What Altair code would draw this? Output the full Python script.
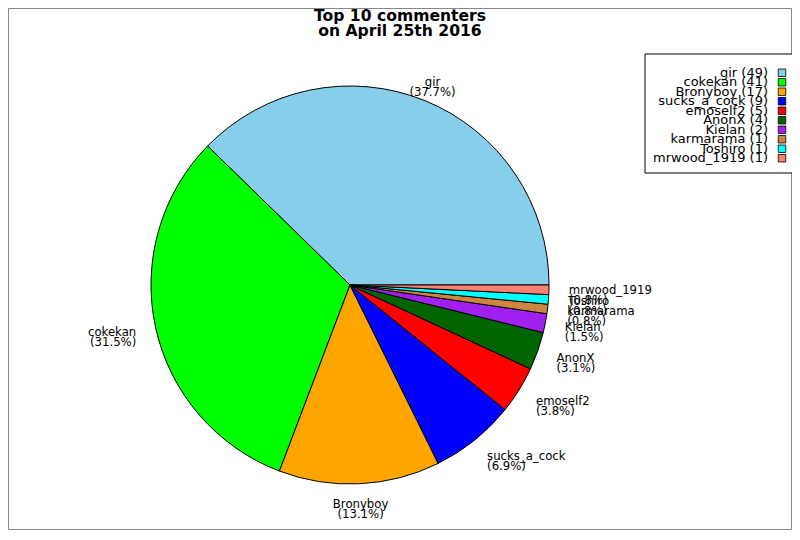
import math
import altair as alt
import pandas as pd

names = ["gir", "cokekan", "Bronyboy", "sucks_a_cock", "emoself2",
         "AnonX", "Kielan", "karmarama", "Toshiro", "mrwood_1919"]
counts = [49, 41, 17, 9, 5, 4, 2, 1, 1, 1]
colors = ["#87CEEB", "#00FF00", "#FFA500", "#0000FF", "#FF0000",
          "#006400", "#A020F0", "#CD853F", "#00FFFF", "#FA8072"]
title_lines = ["Top 10 commenters", "on April 25th 2016"]

df = pd.DataFrame({"name": names, "count": counts, "idx": list(range(len(names)))})

FONT = "DejaVu Sans"
FS = 11.7
W, H = 784, 522
CX, CY, R = 342, 277, 199

theta_scale = alt.Scale(range=[2.5 * math.pi, 0.5 * math.pi])
color_scale = alt.Scale(domain=names, range=colors)

base = (
    alt.Chart(df)
    .transform_joinaggregate(total="sum(count)")
    .transform_window(cum="sum(count)", sort=[alt.SortField(field="idx")], frame=[None, 0])
    .transform_calculate(
        mid="datum.cum - datum.count / 2",
        cosv="cos(2 * PI * (datum.cum - datum.count / 2) / datum.total)",
        label="datum.name + '\\n(' + format(100 * datum.count / datum.total, '.1f') + '%)'",
        leg="datum.name + ' (' + datum.count + ')'",
    )
)

frame = alt.Chart(pd.DataFrame({"a": [0]})).mark_rect(
    fill="white", stroke="#888888", strokeWidth=1
).encode(x=alt.value(0.5), x2=alt.value(W - 0.5), y=alt.value(0.5), y2=alt.value(H - 0.5))

pie = base.mark_arc(radius=R, stroke="black", strokeWidth=1).encode(
    theta=alt.Theta("count:Q", stack=True, scale=theta_scale),
    color=alt.Color("name:N", scale=color_scale, legend=None),
    order=alt.Order("idx:Q"),
    x=alt.value(CX),
    y=alt.value(CY),
)


def labels(expr, align):
    return base.transform_filter(expr).mark_text(
        align=align, baseline="middle", font=FONT, fontSize=FS,
        lineBreak="\n", lineHeight=10, color="black"
    ).encode(
        theta=alt.Theta("mid:Q", stack=None, scale=theta_scale),
        radius=alt.value(R * 1.1),
        x=alt.value(CX),
        y=alt.value(CY),
        text="label:N",
    )


lab_right = labels("datum.cosv >= 0.5", "left")
lab_left = labels("datum.cosv <= -0.5", "right")
lab_center = labels("abs(datum.cosv) < 0.5", "center")

leg_y = alt.Y("name:N", scale=alt.Scale(type="point", domain=names, range=[60, 155]), axis=None)

leg_box = alt.Chart(pd.DataFrame({"a": [0]})).mark_rect(
    fill="white", stroke="black", strokeWidth=1
).encode(x=alt.value(637), x2=alt.value(785), y=alt.value(46), y2=alt.value(165))

leg_text = base.mark_text(
    align="right", baseline="middle", font=FONT, fontSize=13, color="black"
).encode(x=alt.value(760), y=leg_y, text="leg:N")

leg_sym = base.mark_point(
    shape="square", filled=True, size=56, stroke="black", strokeWidth=0.8, opacity=1
).encode(
    x=alt.value(774), y=leg_y,
    color=alt.Color("name:N", scale=color_scale, legend=None),
)

title = alt.Chart(pd.DataFrame({"t": ["\n".join(title_lines)]})).mark_text(
    align="center", baseline="alphabetic", font=FONT, fontSize=15.6,
    fontWeight="bold", lineBreak="\n", lineHeight=15, color="black"
).encode(x=alt.value(392), y=alt.value(13), text="t:N")

chart = (
    alt.layer(frame, pie, lab_right, lab_left, lab_center, leg_box, leg_text, leg_sym, title)
    .resolve_scale(theta="shared", color="shared")
    .properties(width=W, height=H, autosize=alt.AutoSizeParams(type="none"), padding=0)
    .configure_view(stroke=None)
)

chart.save("out.html", embed_options={"renderer": "svg", "actions": False})
